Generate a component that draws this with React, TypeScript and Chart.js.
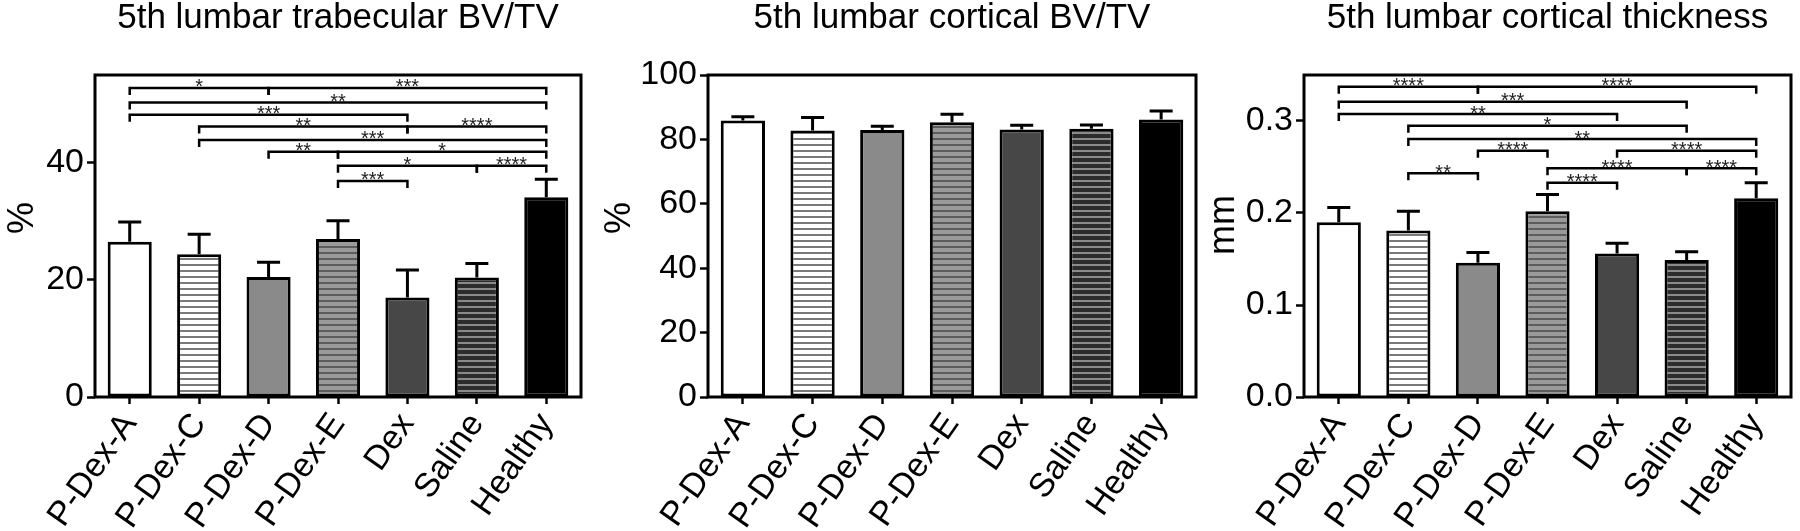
import React, { useEffect, useRef } from "react";
import { Chart, registerables } from "chart.js";

Chart.register(...registerables);

// ---------- data ----------
const categories = ["P-Dex-A", "P-Dex-C", "P-Dex-D", "P-Dex-E", "Dex", "Saline", "Healthy"];

const trabecularMean = [26.5, 24.4, 20.5, 27.0, 17.0, 20.4, 34.1];
const trabecularSem = [3.4, 3.4, 2.5, 3.1, 4.7, 2.4, 3.1];
const trabecularTicks = [0, 20, 40];
const trabecularTickLabels = ["0", "20", "40"];
// [from, to, label, bracket height (data units)]
const trabecularSig: [number, number, string, number][] = [
  [0, 2, "*", 52.8],
  [2, 6, "***", 52.8],
  [0, 6, "**", 50.3],
  [0, 4, "***", 48.2],
  [1, 4, "**", 46.2],
  [4, 6, "****", 46.2],
  [1, 6, "***", 43.9],
  [2, 3, "**", 41.9],
  [3, 6, "*", 41.9],
  [3, 5, "*", 39.5],
  [5, 6, "****", 39.5],
  [3, 4, "***", 36.9],
];

const corticalMean = [85.9, 82.8, 82.9, 85.3, 83.1, 83.3, 86.2];
const corticalSem = [1.1, 4.0, 1.2, 2.5, 1.3, 1.2, 2.6];
const corticalTicks = [0, 20, 40, 60, 80, 100];
const corticalTickLabels = ["0", "20", "40", "60", "80", "100"];
const corticalSig: [number, number, string, number][] = [];

const thicknessMean = [0.19, 0.181, 0.146, 0.202, 0.156, 0.149, 0.216];
const thicknessSem = [0.016, 0.021, 0.011, 0.018, 0.011, 0.009, 0.017];
const thicknessTicks = [0, 0.1, 0.2, 0.3];
const thicknessTickLabels = ["0.0", "0.1", "0.2", "0.3"];
const thicknessSig: [number, number, string, number][] = [
  [0, 2, "****", 0.3373],
  [2, 6, "****", 0.3373],
  [0, 5, "***", 0.321],
  [0, 4, "**", 0.3076],
  [1, 5, "*", 0.2949],
  [1, 6, "**", 0.2804],
  [2, 3, "****", 0.2677],
  [4, 6, "****", 0.2677],
  [3, 5, "****", 0.2486],
  [5, 6, "****", 0.2486],
  [1, 2, "**", 0.2432],
  [3, 4, "****", 0.2329],
];

// ---------- styles ----------
const FONT = "'Liberation Sans', Arial, Helvetica, sans-serif";
const TICK_SIZE = 34;
const XTICK_SIZE = 34;
const TITLE_SIZE = 35;
const YTITLE_SIZE = 36;

type PanelCfg = {
  title: string;
  yTitle: string;
  means: number[];
  sems: number[];
  max: number;
  ticks: number[];
  tickLabels: string[];
  sig: [number, number, string, number][];
  yAxisWidth: number;
  padRight: number;
  yTitleDx: number;
  yTitleY: number;
};

const panels: PanelCfg[] = [
  {
    title: "5th lumbar trabecular BV/TV",
    yTitle: "%",
    means: trabecularMean,
    sems: trabecularSem,
    max: 55,
    ticks: trabecularTicks,
    tickLabels: trabecularTickLabels,
    sig: trabecularSig,
    yAxisWidth: 95,
    padRight: 19,
    yTitleDx: -72,
    yTitleY: 218,
  },
  {
    title: "5th lumbar cortical BV/TV",
    yTitle: "%",
    means: corticalMean,
    sems: corticalSem,
    max: 100,
    ticks: corticalTicks,
    tickLabels: corticalTickLabels,
    sig: corticalSig,
    yAxisWidth: 108,
    padRight: 4,
    yTitleDx: -88,
    yTitleY: 218,
  },
  {
    title: "5th lumbar cortical thickness",
    yTitle: "mm",
    means: thicknessMean,
    sems: thicknessSem,
    max: 0.35,
    ticks: thicknessTicks,
    tickLabels: thicknessTickLabels,
    sig: thicknessSig,
    yAxisWidth: 104,
    padRight: 9,
    yTitleDx: -80,
    yTitleY: 225,
  },
];

function stripe(
  ctx: CanvasRenderingContext2D,
  base: string,
  line: string,
  period: number,
  lw: number
) {
  const c = document.createElement("canvas");
  c.width = 8;
  c.height = period;
  const g = c.getContext("2d")!;
  g.fillStyle = base;
  g.fillRect(0, 0, 8, period);
  g.fillStyle = line;
  g.fillRect(0, 0, 8, lw);
  return ctx.createPattern(c, "repeat") as CanvasPattern;
}

function Panel({ cfg }: { cfg: PanelCfg }) {
  const ref = useRef<HTMLCanvasElement>(null);
  useEffect(() => {
    const canvas = ref.current!;
    const ctx = canvas.getContext("2d")!;
    const fills: (string | CanvasPattern)[] = [
      "#ffffff",
      stripe(ctx, "#ffffff", "#7a7a7a", 6, 2),
      "#8a8a8a",
      stripe(ctx, "#9a9a9a", "#5c5c5c", 6, 2),
      "#474747",
      stripe(ctx, "#2c2c2c", "#8a8a8a", 6, 2),
      "#000000",
    ];

    const decor = {
      id: "decor",
      afterDatasetsDraw(chart: any) {
        const c = chart.ctx as CanvasRenderingContext2D;
        const area = chart.chartArea;
        const ys = chart.scales.y;
        const meta = chart.getDatasetMeta(0);
        c.save();
        // error bars (upper only)
        c.strokeStyle = "#000";
        c.lineWidth = 3;
        cfg.means.forEach((m, i) => {
          const x = meta.data[i].x;
          const y0 = ys.getPixelForValue(m);
          const y1 = ys.getPixelForValue(m + cfg.sems[i]);
          c.beginPath();
          c.moveTo(x, y0);
          c.lineTo(x, y1);
          c.moveTo(x - 11.5, y1);
          c.lineTo(x + 11.5, y1);
          c.stroke();
        });
        // significance brackets
        c.lineWidth = 2.5;
        c.font = `20px ${FONT}`;
        c.fillStyle = "#222";
        c.textAlign = "center";
        c.textBaseline = "alphabetic";
        cfg.sig.forEach(([a, b, label, h]) => {
          const xa = meta.data[a].x;
          const xb = meta.data[b].x;
          const y = ys.getPixelForValue(h);
          c.beginPath();
          c.moveTo(xa, y + 7);
          c.lineTo(xa, y);
          c.lineTo(xb, y);
          c.lineTo(xb, y + 7);
          c.stroke();
          c.fillText(label, (xa + xb) / 2, y + 5.5);
        });
        // frame
        c.lineWidth = 3;
        c.strokeRect(area.left, area.top, area.right - area.left, area.bottom - area.top);
        // title
        c.fillStyle = "#000";
        c.font = `${TITLE_SIZE}px ${FONT}`;
        c.textAlign = "center";
        c.textBaseline = "alphabetic";
        c.fillText(cfg.title, (area.left + area.right) / 2, 28);
        // y title
        c.translate(area.left + cfg.yTitleDx, cfg.yTitleY);
        c.rotate(-Math.PI / 2);
        c.textBaseline = "middle";
        c.font = `${YTITLE_SIZE}px ${FONT}`;
        c.fillText(cfg.yTitle, 0, 0);
        c.restore();
      },
    };

    const chart = new Chart(canvas, {
      type: "bar",
      data: {
        labels: categories,
        datasets: [
          {
            data: cfg.means,
            backgroundColor: fills as any,
            borderColor: "#000",
            borderWidth: 3,
            borderSkipped: false,
            categoryPercentage: 1,
            barPercentage: 0.635,
          },
        ],
      },
      options: {
        responsive: false,
        animation: false,
        devicePixelRatio: 1,
        layout: { padding: { top: 75, right: cfg.padRight, left: 0, bottom: 0 } },
        plugins: {
          legend: { display: false },
          tooltip: { enabled: false },
          title: { display: false },
        },
        scales: {
          x: {
            type: "category",
            offset: true,
            grid: {
              display: true,
              drawOnChartArea: false,
              offset: false,
              tickLength: 7,
              tickWidth: 2.5,
              tickColor: "#000",
            },
            border: { display: false },
            ticks: {
              autoSkip: false,
              minRotation: 55,
              maxRotation: 55,
              color: "#000",
              padding: 2,
              font: { family: FONT, size: XTICK_SIZE },
            },
            afterFit: (s: any) => {
              s.height = 134;
            },
          },
          y: {
            type: "linear",
            min: 0,
            max: cfg.max,
            grid: {
              display: true,
              drawOnChartArea: false,
              tickLength: 8,
              tickWidth: 2.5,
              tickColor: "#000",
            },
            border: { display: false },
            afterBuildTicks: (s: any) => {
              s.ticks = cfg.ticks.map((v) => ({ value: v }));
            },
            ticks: {
              color: "#000",
              padding: 3,
              font: { family: FONT, size: TICK_SIZE },
              callback: (_v: any, i: number) => cfg.tickLabels[i],
            },
            afterFit: (s: any) => {
              s.width = cfg.yAxisWidth;
            },
          },
        },
      },
      plugins: [decor as any],
    });
    return () => chart.destroy();
  }, [cfg]);
  return (
    <canvas
      ref={ref}
      width={600}
      height={531}
      style={{ display: "block", width: 600, height: 531 }}
    />
  );
}

export default function App() {
  return (
    <div
      style={{
        position: "fixed",
        left: 0,
        top: 0,
        width: 1800,
        height: 531,
        display: "flex",
        background: "#fff",
      }}
    >
      {panels.map((p, i) => (
        <Panel key={i} cfg={p} />
      ))}
    </div>
  );
}
